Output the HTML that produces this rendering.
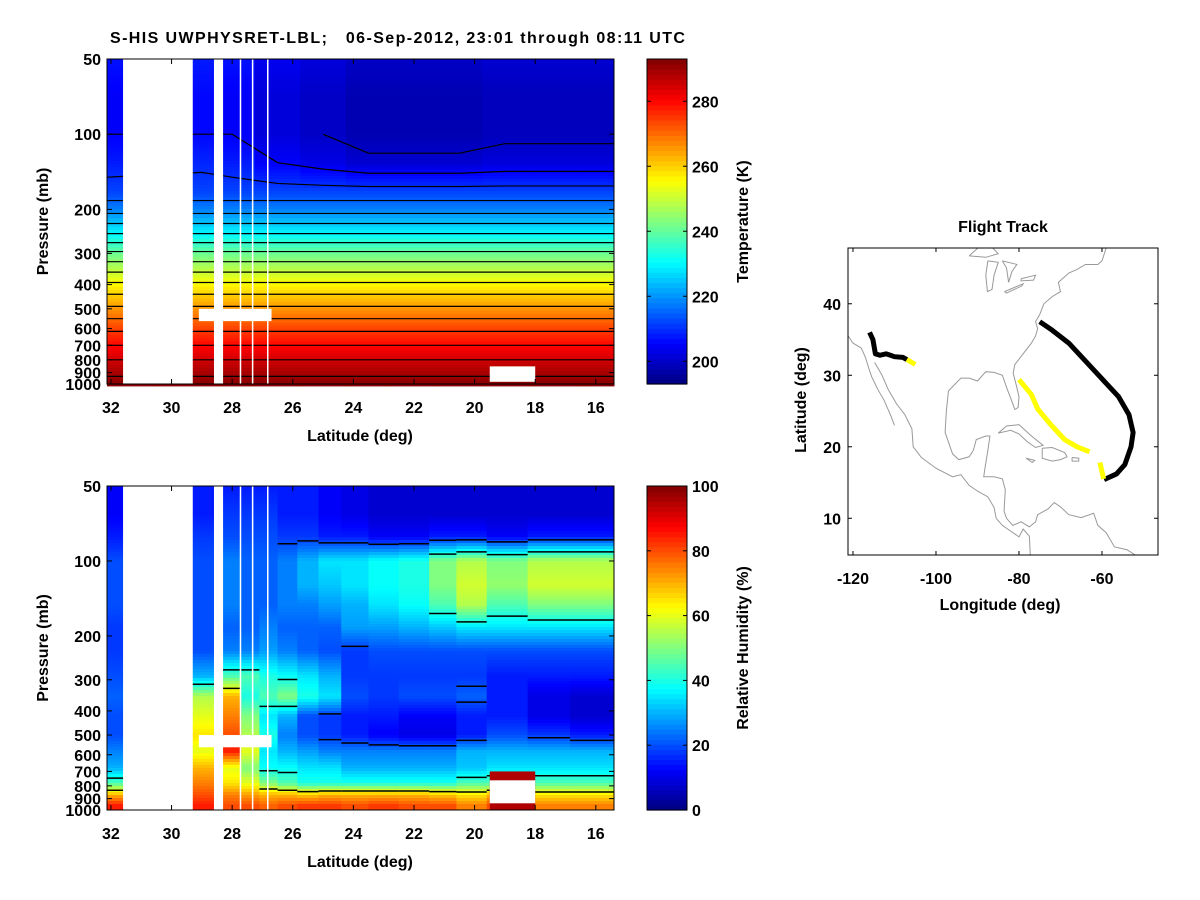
<!DOCTYPE html>
<html><head><meta charset="utf-8"><style>
html,body{margin:0;padding:0;background:#fff}
svg{display:block;font-family:"Liberation Sans",Arial,sans-serif;font-weight:bold}
</style></head><body>
<svg id="root" width="1200" height="900" viewBox="0 0 1200 900" xmlns="http://www.w3.org/2000/svg">
<text x="110" y="43" font-size="16" textLength="575" lengthAdjust="spacing" xml:space="preserve" style="white-space:pre">S-HIS UWPHYSRET-LBL;   06-Sep-2012, 23:01 through 08:11 UTC</text>
<g id="temp"></g>
<g id="rh"></g>
<g id="map"></g>
</svg>
<script>
// ---------- data ----------
const pTicks=[50,100,200,300,400,500,600,700,800,900,1000];
const latTicks=[32,30,28,26,24,22,20,18,16];
const tempLevels=[50,70,100,130,170,200,250,300,400,500,600,700,800,900,1000];
const tempProfile=[205,203,203,206,212,218,230,241,256,266,274,280,285,289,292];
const tempLatCenters=[31.9,29.0,28.0,26.5,25.0,23.5,22.0,20.5,19.0,17.0,15.8];
const tempUpperOffset=[2,3,2,-1,-3,-5,-5,-5,-4,-4,-4];
const tempContours=[200,205,210,215,220,225,230,235,240,245,250,255,260,265,270,275,280,285,290];
const tempTicks=[200,220,240,260,280];
const rhLevels=[50,65,80,100,125,150,185,230,290,350,420,500,580,680,780,870,960];
const rhLatCenters=[31.9,29.0,28.0,27.4,26.8,26.2,25.5,24.8,24.0,23.0,22.0,21.0,20.2,19.0,17.5,16.2];
const rhValues=[
[12,15,15,15,15,15,15,12,10,8,8,8,8,8,8,8],
[12,15,18,18,18,15,15,12,10,8,8,8,8,8,8,8],
[15,18,20,20,20,18,18,15,15,12,12,15,15,12,15,15],
[20,20,25,22,22,25,30,35,35,38,40,50,55,50,55,55],
[20,20,25,22,22,25,30,32,35,38,40,50,58,52,58,58],
[20,20,25,22,22,25,25,28,30,35,38,45,55,45,50,50],
[18,20,22,22,25,22,22,22,28,28,30,32,35,35,35,35],
[18,20,25,25,28,25,22,20,18,20,20,20,20,20,20,20],
[20,30,45,45,40,38,35,30,18,18,18,18,18,15,15,15],
[22,55,70,40,45,50,40,35,20,18,20,20,22,15,10,8],
[20,60,75,50,35,30,20,18,15,15,12,12,15,15,10,8],
[20,65,80,55,40,25,20,18,15,12,10,10,15,20,18,15],
[25,60,85,60,35,30,28,25,25,25,25,25,30,30,30,30],
[30,70,60,50,38,38,35,35,30,30,30,30,32,35,35,35],
[45,75,65,60,50,45,40,40,40,40,40,40,45,45,45,45],
[70,80,75,72,70,70,68,70,70,70,70,68,65,70,65,65],
[85,85,80,80,78,80,82,82,80,82,80,80,75,80,75,75]];
const rhContours=[20,40,60];
const rhTicks=[0,20,40,60,80,100];
const blankLat=[[31.6,29.3],[28.6,28.3],[27.75,27.7],[27.35,27.3],[26.85,26.8]];
const mapLonTicks=[-120,-100,-80,-60];
const mapLatTicks=[10,20,30,40];
const trackBlack1=[[-116,36],[-115.2,35],[-114.6,33],[-113.5,32.8],[-112,33],[-110,32.6],[-108,32.5],[-107,32.2]];
const trackYellow1=[[-107,32.2],[-105,31.5]];
const trackBlack2=[[-75,37.5],[-72,36.3],[-68,34.5],[-64,32],[-60,29.5],[-56,27],[-53.5,24.5],[-52.5,22],[-53,20],[-54.5,17.5],[-56.5,16.2],[-59.5,15.4]];
const trackYellow2=[[-80,29.4],[-77,27.3],[-75.5,25.3],[-72.5,23.2],[-69,21],[-66,20],[-63,19.3]];
const trackYellow3=[[-60.5,17.8],[-59.6,15.5]];
const coasts=[
[[-121.5,35.8],[-120,34.5],[-118,33.8],[-117,32.5],[-116.2,31],[-115.5,29.8],[-114,28],[-112.5,26.5],[-111,24.5],[-110,23]],
[[-114.8,31.8],[-113,30],[-111.5,28],[-109.5,26],[-107.5,24.5],[-105.8,22.5],[-105.5,20],[-103.5,18.5],[-100,17],[-96,15.8],[-94,16.1],[-92,14.6],[-90,13.8],[-87.5,13],[-86,11.5],[-85.5,10],[-84,9],[-82,8.2],[-80,7.4],[-79,8.5],[-77.5,7.5],[-77.2,4]],
[[-81,25.2],[-81.8,26.5],[-82.8,28],[-84,30],[-86,30.4],[-88,30.5],[-90,29.2],[-92,29.6],[-94,29.6],[-97,27.8],[-97.5,25],[-97.8,22],[-96,19],[-94.5,18.2],[-92,18.6],[-91,19.5],[-90.3,21],[-88,21.5],[-87,21.5],[-87.5,19.5],[-88.2,17],[-88.5,15.8],[-86,15.8],[-84,15.5],[-83.3,14],[-83.6,11],[-83,10],[-81.5,9],[-79.5,9.5],[-77.5,8.8],[-76,9.5],[-75.5,10.5],[-73,11.3],[-71.5,12.2],[-70,11.6],[-68,10.5],[-65,10.1],[-62,10.7],[-61,9],[-59,8],[-57,6],[-54,5.6],[-51,4.5]],
[[-81,25.2],[-80.2,25.5],[-80,27],[-80.6,28.5],[-81.4,30.3],[-81,31.5],[-79,33],[-77,34.5],[-76,35.5],[-75.5,36.5],[-76,37.5],[-75,38.5],[-74,40],[-72,41],[-70,41.7],[-70.5,43],[-68,44.3],[-66,44.8],[-64,45.5],[-61,45.5],[-60,46],[-59,47.8]],
[[-85,21.9],[-83,22.9],[-80,23.1],[-77,21.5],[-74.2,20.2],[-76,19.9],[-78,20.7],[-80,21.8],[-82,22.3],[-85,21.9]],
[[-74.4,19.8],[-72,19.9],[-69,19.2],[-68.4,18.6],[-70,18.2],[-72,18],[-74.4,18.4],[-74.4,19.8]],
[[-78.3,18.4],[-76.2,18.1],[-76.8,17.8],[-78.3,18.4]],
[[-67.2,18.5],[-65.6,18.4],[-65.6,18],[-67.2,18],[-67.2,18.5]],
[[-92,46.7],[-88,48.8],[-85,47],[-88,46.5],[-92,46.7]],
[[-87.5,46],[-88,44],[-87.6,41.7],[-86.5,42],[-86,44],[-85,45.8],[-87.5,46]],
[[-84,46],[-83,45],[-82.5,43],[-81.7,44.5],[-80.5,45.5],[-84,46]],
[[-83.5,41.7],[-79,42.8],[-79.3,42.5],[-83,41.5],[-83.5,41.7]],
[[-79.5,43.5],[-76,44],[-76.5,43.3],[-79.5,43.2],[-79.5,43.5]]];

// ---------- helpers ----------
const NS="http://www.w3.org/2000/svg";
const FS=16;
function mk(parent,tag,attrs){const e=document.createElementNS(NS,tag);for(const k in attrs)e.setAttribute(k,attrs[k]);parent.appendChild(e);return e;}
function jet(t){t=Math.max(0,Math.min(1,t));const f=x=>Math.max(0,Math.min(1,x));
 const r=f(1.5-Math.abs(4*t-3)),g=f(1.5-Math.abs(4*t-2)),b=f(1.5-Math.abs(4*t-1));
 return `rgb(${Math.round(r*255)},${Math.round(g*255)},${Math.round(b*255)})`;}
const X0=107,X1=614,LAT0=32.13,LAT1=15.4;
const xLat=lat=>X0+(LAT0-lat)/(LAT0-LAT1)*(X1-X0);
function yP(top,bot){return p=>top+Math.log10(p/50)/Math.log10(20)*(bot-top);}
function edges(c){const e=[LAT0];for(let i=0;i<c.length-1;i++)e.push((c[i]+c[i+1])/2);e.push(LAT1);return e;}
function interpLevel(levels,vals,p){
 if(p<=levels[0])return vals[0];
 for(let i=0;i<levels.length-1;i++){if(p<=levels[i+1]){const a=Math.log(levels[i]),b=Math.log(levels[i+1]);const t=(Math.log(p)-a)/(b-a);return vals[i]+t*(vals[i+1]-vals[i]);}}
 return vals[vals.length-1];}

function axesFrame(g,top,bot){
 const y=yP(top,bot);
 mk(g,'rect',{x:X0,y:top,width:X1-X0,height:bot-top,fill:'none',stroke:'#000','stroke-width':1});
 pTicks.forEach(p=>{const yy=y(p);
  mk(g,'line',{x1:X0,x2:X0+5,y1:yy,y2:yy,stroke:'#000'});mk(g,'line',{x1:X1,x2:X1-5,y1:yy,y2:yy,stroke:'#000'});
  const t=mk(g,'text',{x:101,y:yy+6,'font-size':FS,'text-anchor':'end'});t.textContent=p;
  
  });
 latTicks.forEach(l=>{const xx=xLat(l);
  mk(g,'line',{x1:xx,x2:xx,y1:bot,y2:bot-5,stroke:'#000'});mk(g,'line',{x1:xx,x2:xx,y1:top,y2:top+5,stroke:'#000'});
  const t=mk(g,'text',{x:xx,y:bot+29,'font-size':FS,'text-anchor':'middle'});t.textContent=l;
  
  });
 const xt=mk(g,'text',{x:360,y:bot+57,'font-size':FS,'text-anchor':'middle'});xt.textContent='Latitude (deg)';
 
 
 const cy=(top+bot)/2;
 const yt=mk(g,'text',{x:48,y:cy,'font-size':FS,'text-anchor':'middle',transform:`rotate(-90 48 ${cy})`});yt.textContent='Pressure (mb)';
 
 }

function blanks(g,top,bot){
 blankLat.forEach(b=>{const r=mk(g,'rect',{x:xLat(b[0]),y:top,width:Math.max(1.5,xLat(b[1])-xLat(b[0])),height:bot-top,fill:'#fff'});
  
  });}

function colorbar(g,top,bot,vmin,vmax,ticks,title){
 const n=64;const h=(bot-top)/n;
 for(let i=0;i<n;i++)mk(g,'rect',{x:647,y:bot-(i+1)*h,width:40,height:h+0.6,fill:jet((i+0.5)/n)});
 mk(g,'rect',{x:647,y:top,width:40,height:bot-top,fill:'none',stroke:'#000'});
 ticks.forEach(v=>{const yy=bot-(v-vmin)/(vmax-vmin)*(bot-top);
  mk(g,'line',{x1:687,x2:683,y1:yy,y2:yy,stroke:'#000'});mk(g,'line',{x1:647,x2:651,y1:yy,y2:yy,stroke:'#000'});
  const t=mk(g,'text',{x:692,y:yy+6,'font-size':FS});t.textContent=v;
  
  });
 const cy=(top+bot)/2;
 const t=mk(g,'text',{x:748,y:cy,'font-size':FS,'text-anchor':'middle',transform:`rotate(-90 748 ${cy})`});t.textContent=title;
 
 }

// ---------- temperature panel ----------
(function(){
 const g=document.getElementById('temp');const top=59,bot=384;const y=yP(top,bot);
 const TMIN=193,TMAX=293;const e=edges(tempLatCenters);
 const colProf=tempLatCenters.map((c,j)=>tempProfile.map((v,i)=>tempLevels[i]<=150?v+tempUpperOffset[j]:v));
 const hm=mk(g,'g',{});
 tempLatCenters.forEach((c,j)=>{const xa=xLat(e[j]),xb=xLat(e[j+1]);
  for(let yy=top;yy<bot;yy+=3){const p=50*Math.pow(20,(yy+1.5-top)/(bot-top));const v=interpLevel(tempLevels,colProf[j],p);
   const r=mk(hm,'rect',{x:xa,y:yy,width:xb-xa+0.5,height:3.4,fill:jet((v-TMIN)/(TMAX-TMIN))});
   
   }});
 const cg=mk(g,'g',{});
 tempContours.forEach(cv=>{const pts=[];
  tempLatCenters.forEach((c,j)=>{const prof=colProf[j];
   for(let i=tempLevels.length-2;i>=0;i--){const a=prof[i],b=prof[i+1];
    if((a-cv)*(b-cv)<=0&&a!==b){const t=(cv-a)/(b-a);const lp=Math.log(tempLevels[i])+t*(Math.log(tempLevels[i+1])-Math.log(tempLevels[i]));
     pts.push([xLat(j==0?LAT0:(j==tempLatCenters.length-1?LAT1:c)),y(Math.exp(lp))]);break;}}});
  if(pts.length>1){const l=mk(cg,'polyline',{points:pts.map(p=>p.join(',')).join(' '),fill:'none',stroke:'#000','stroke-width':1.2});
   
   }});
 blanks(g,top,bot);
 [[29.1,26.7,500,560],[19.5,18.0,850,980]].forEach(b=>mk(g,'rect',{x:xLat(b[0]),y:y(b[2]),width:xLat(b[1])-xLat(b[0]),height:y(Math.min(b[3],1000))-y(b[2]),fill:'#fff'}));
 axesFrame(g,top,bot);
 colorbar(g,top,bot,TMIN,TMAX,tempTicks,'Temperature (K)');
})();

// ---------- RH panel ----------
(function(){
 const g=document.getElementById('rh');const top=486,bot=810;const y=yP(top,bot);
 const e=edges(rhLatCenters);
 const hm=mk(g,'g',{});
 rhLatCenters.forEach((c,j)=>{const xa=xLat(e[j]),xb=xLat(e[j+1]);const col=rhValues.map(r=>r[j]);
  for(let yy=top;yy<bot;yy+=3){const p=50*Math.pow(20,(yy+1.5-top)/(bot-top));const v=interpLevel(rhLevels,col,p);
   const r=mk(hm,'rect',{x:xa,y:yy,width:xb-xa+0.5,height:3.4,fill:jet(v/100)});
   
   }});
 const cg=mk(g,'g',{});
 rhContours.forEach(cv=>{
  rhLatCenters.forEach((c,j)=>{const col=rhValues.map(r=>r[j]);
   for(let i=0;i<rhLevels.length-1;i++){const a=col[i],b=col[i+1];
    if((a-cv)*(b-cv)<0){const t=(cv-a)/(b-a);const lp=Math.log(rhLevels[i])+t*(Math.log(rhLevels[i+1])-Math.log(rhLevels[i]));
     const yy=y(Math.exp(lp));
     const l=mk(cg,'line',{x1:xLat(e[j]),x2:xLat(e[j+1]),y1:yy,y2:yy,stroke:'#000','stroke-width':1.5});
     
     }}});});
 blanks(g,top,bot);
 [[29.1,26.7,500,560]].forEach(b=>mk(g,'rect',{x:xLat(b[0]),y:y(b[2]),width:xLat(b[1])-xLat(b[0]),height:y(b[3])-y(b[2]),fill:'#fff'}));
 mk(g,'rect',{x:xLat(19.5),y:y(700),width:xLat(18.0)-xLat(19.5),height:y(1000)-y(700),fill:'#b00000'});
 mk(g,'rect',{x:xLat(19.5),y:y(760),width:xLat(18.0)-xLat(19.5),height:y(940)-y(760),fill:'#fff'});
 axesFrame(g,top,bot);
 colorbar(g,top,bot,0,100,rhTicks,'Relative Humidity (%)');
})();

// ---------- map ----------
(function(){
 const g=document.getElementById('map');
 const MX0=848,MX1=1158,MY0=248,MY1=555,LON0=-121.2,LATT=47.8;
 const xm=lon=>MX0+(lon-LON0)*4.15, ym=lat=>MY0+(LATT-lat)*7.15;
 const t=mk(g,'text',{x:1003,y:232,'font-size':FS,'text-anchor':'middle'});t.textContent='Flight Track';
 
 
 const defs=mk(g,'defs',{});const cp=mk(defs,'clipPath',{id:'mapclip'});mk(cp,'rect',{x:MX0,y:MY0,width:MX1-MX0,height:MY1-MY0});
 const inner=mk(g,'g',{'clip-path':'url(#mapclip)'});
 const pl=pts=>pts.map(p=>xm(p[0])+','+ym(p[1])).join(' ');
 coasts.forEach(c=>{const l=mk(inner,'polyline',{points:pl(c),fill:'none',stroke:'#999','stroke-width':1});
  
  });
 [[trackBlack1,'#000'],[trackBlack2,'#000'],[trackYellow1,'#ffff00'],[trackYellow2,'#ffff00'],[trackYellow3,'#ffff00']].forEach(([tr,col])=>{
  const l=mk(inner,'polyline',{points:pl(tr),fill:'none',stroke:col,'stroke-width':5,'stroke-linejoin':'round'});
  
  });
 mk(g,'rect',{x:MX0,y:MY0,width:MX1-MX0,height:MY1-MY0,fill:'none',stroke:'#000'});
 mapLonTicks.forEach(v=>{const xx=xm(v);mk(g,'line',{x1:xx,x2:xx,y1:MY1,y2:MY1-4,stroke:'#000'});mk(g,'line',{x1:xx,x2:xx,y1:MY0,y2:MY0+4,stroke:'#000'});
  const t=mk(g,'text',{x:xx,y:584,'font-size':FS,'text-anchor':'middle'});t.textContent=v;
  
  });
 mapLatTicks.forEach(v=>{const yy=ym(v);mk(g,'line',{x1:MX0,x2:MX0+4,y1:yy,y2:yy,stroke:'#000'});mk(g,'line',{x1:MX1,x2:MX1-4,y1:yy,y2:yy,stroke:'#000'});
  const t=mk(g,'text',{x:841,y:yy+6,'font-size':FS,'text-anchor':'end'});t.textContent=v;
  
  });
 const xt=mk(g,'text',{x:1000,y:610,'font-size':FS,'text-anchor':'middle'});xt.textContent='Longitude (deg)';
 
 
 const yt=mk(g,'text',{x:806,y:400,'font-size':FS,'text-anchor':'middle',transform:'rotate(-90 806 400)'});yt.textContent='Latitude (deg)';
 
 
})();
</script>
</body></html>
